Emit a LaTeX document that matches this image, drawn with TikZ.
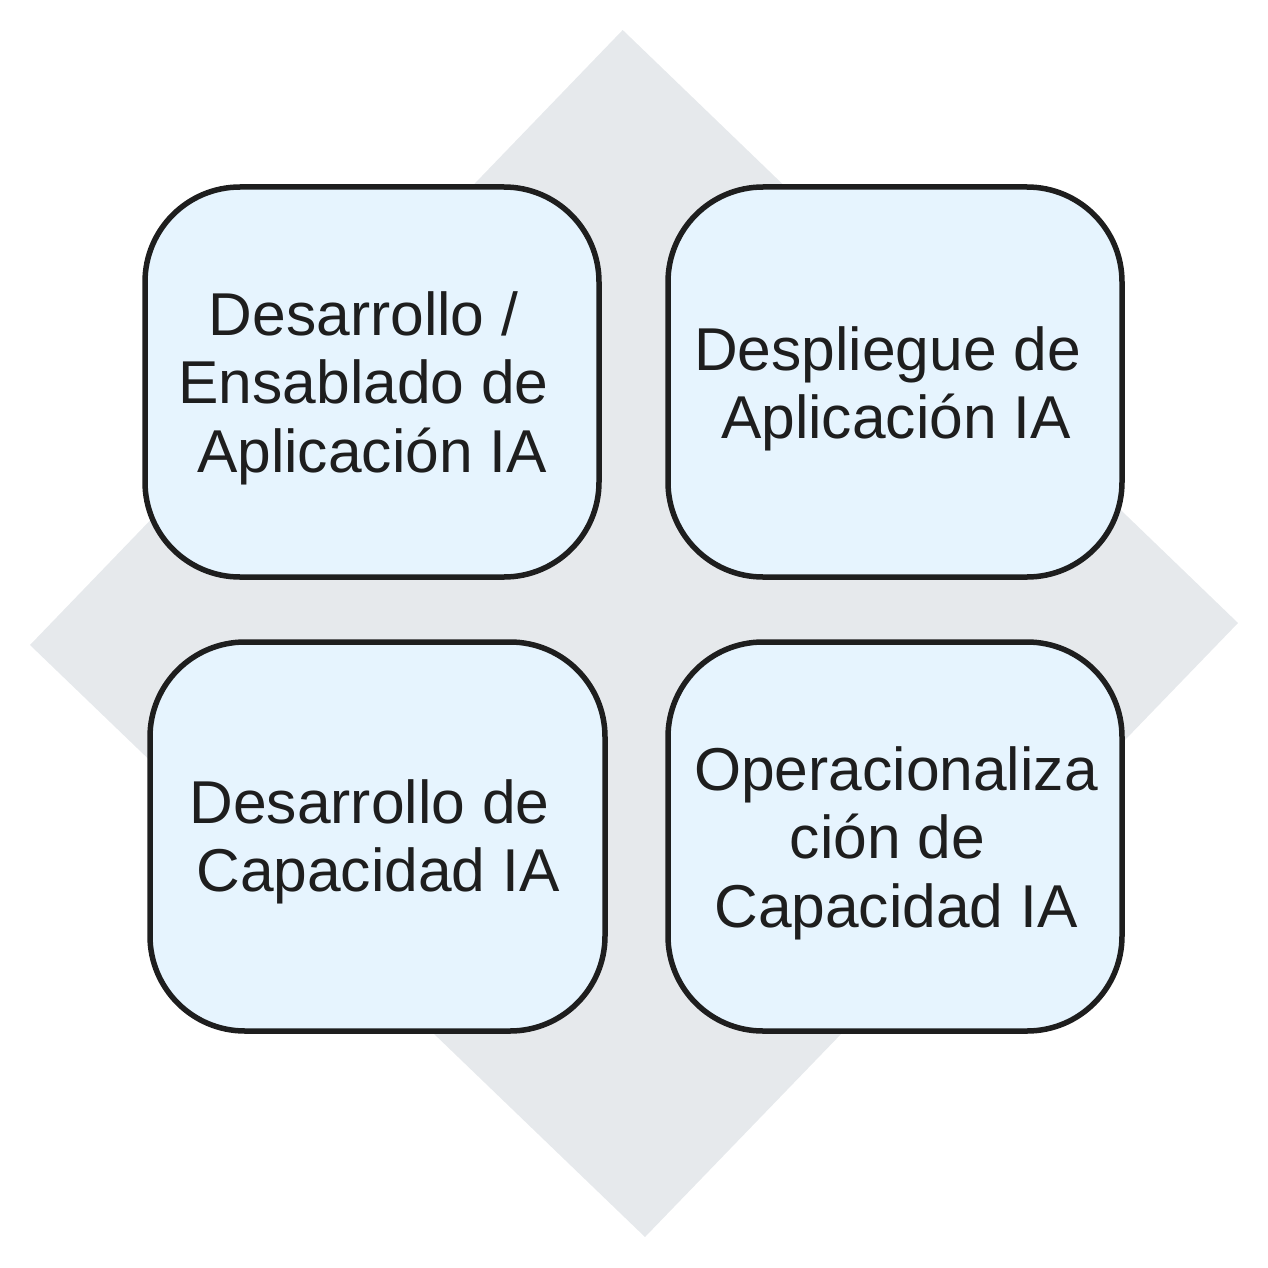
\documentclass[tikz,border=0pt]{standalone}
\usepackage{fontspec}
\setmainfont{Liberation Sans}
\definecolor{diamondgray}{HTML}{E6E9EC}
\definecolor{boxfill}{HTML}{E6F4FE}
\definecolor{boxline}{HTML}{1E1E1E}
\definecolor{txt}{HTML}{1E1E1E}
\newcommand{\trsp}{\rule{0.28em}{0pt}}
\begin{document}
\begin{tikzpicture}[x=1pt,y=-1pt,
  quad/.style={draw=boxline,fill=boxfill,line width=5.5pt,rounded corners=95pt},
  lbl/.style={align=center,text=txt,font=\fontsize{60.5}{68.5}\selectfont,inner sep=0pt}]
\useasboundingbox (0,0) rectangle (1268,1268);
\fill[diamondgray] (622.7,30) coordinate (dt) -- (1238,623) coordinate (dr) -- (645,1237) coordinate (db) -- (30,645) coordinate (dl) -- cycle;
\draw[quad] (145,187) rectangle (599,577);
\draw[quad] (668,187) rectangle (1122,577);
\draw[quad] (150,642) rectangle (605,1031);
\draw[quad] (668,642) rectangle (1122,1031);
\node[lbl] (t1) at (372,388) {Desarrollo /\trsp\\Ensablado de\trsp\\Aplicación IA};
\node[lbl] (t2) at (896,389) {Despliegue de\trsp\\Aplicación IA};
\node[lbl] (t3) at (378,842) {Desarrollo de\trsp\\Capacidad IA};
\node[lbl] (t4) at (896,843) {Operacionaliza\\ción de\trsp\\Capacidad IA};
\end{tikzpicture}
\end{document}
